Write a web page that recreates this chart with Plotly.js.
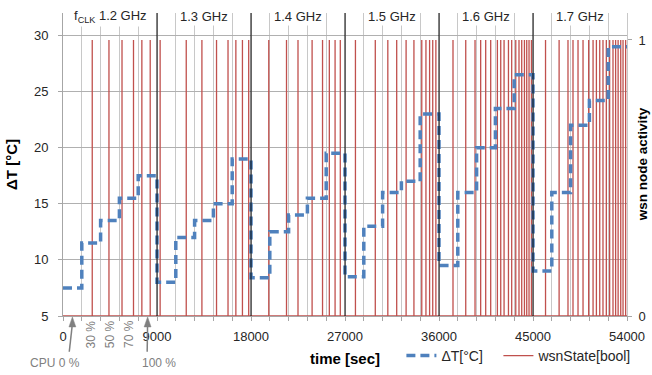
<!DOCTYPE html>
<html><head><meta charset="utf-8">
<script src="https://cdn.plot.ly/plotly-3.0.1.min.js"></script>
<style>html,body{margin:0;padding:0;background:#fff}</style>
</head><body><div id="chart" style="width:652px;height:375px"></div>
<script>
// step times (s) and temperature rise (°C) at each step
const stepTimes = [0,1800,3600,5400,7200,9000,10800,12600,14400,16200,18000,19800,21600,23400,25200,27000,28800,30600,32400,34200,36000,37800,39600,41400,43200,45000,46800,48600,50400,52200,54000];
const deltaT = [7.5,11.5,13.5,15.5,17.5, 8.0,12.0,13.5,15.0,19.0, 8.4,12.5,14.0,15.5,19.5, 8.5,13.0,16.0,17.0,23.0, 9.5,16.0,20.0,23.5,26.5, 9.0,16.0,22.0,24.2,29.0, 29.0];
// times (s) where the WSN node becomes active
const wsnEvents = [2800,4400,5650,6750,7550,8350,
  9300,11800,13300,14700,15800,16550,17180,17780,
  19700,21400,22500,23850,24850,25500,26050,26550,
  28000,29900,31100,31950,32850,33600,34350,34750,35100,35400,35700,
  37340,38560,39450,39990,40470,40950,41590,41910,42230,42650,42960,43350,43660,43920,44180,44400,44620,44850,
  46200,47500,48350,48830,49310,49790,50330,50750,51070,51390,51700,52020,52340,52660,52910,53150,53400,53620,53870];
const segBounds = [0,9000,18000,27000,36000,45000,54000];
const freqLabels = ['f<sub>CLK</sub> 1.2 GHz','1.3 GHz','1.4 GHz','1.5 GHz','1.6 GHz','1.7 GHz'];
const cpuLabels = ['30 %','50 %','70 %'];
const xTickVals = [0,9000,18000,27000,36000,45000,54000];
const xTickText = ['0','9000','18000','27000','36000','45000','54000'];
const yTickVals = [5,10,15,20,25,30];

const wx = [0], wy = [0];
wsnEvents.forEach(t => { wx.push(t,t,t); wy.push(0,1,0); });
wx.push(54000); wy.push(0);

const FONT = 'Liberation Sans, Arial, sans-serif';
const GRAY = '#808080';
const data = [
  {x: wx, y: wy, yaxis: 'y', mode: 'lines', name: 'wsnState[bool]', legend: 'legend2',
   line: {color: '#c0504d', width: 1.3}, hoverinfo: 'skip'},
  {x: stepTimes, y: deltaT, yaxis: 'y2', mode: 'lines', name: 'ΔT[°C]', legend: 'legend',
   line: {shape: 'hv', color: '#4f81bd', width: 3.5, dash: '9px,5px'}}
];

const shapes = segBounds.slice(1, -1).map(b => ({
  type: 'line', xref: 'x', yref: 'paper', x0: b, x1: b, y0: 0, y1: 1,
  line: {color: '#000000', width: 1}, layer: 'above'
}));
// gray pointer arrows under the axis (0 % and 100 % CPU steps)
function arrow(t, slant) {
  shapes.push({type: 'line', xref: 'x', yref: 'paper', x0: t + slant, x1: t, y0: -0.118, y1: -0.025,
    line: {color: GRAY, width: 1.5}});
  shapes.push({type: 'path', xref: 'x', yref: 'paper',
    path: `M ${t - 330} -0.036 L ${t} -0.003 L ${t + 330} -0.036 Z`,
    fillcolor: GRAY, line: {color: GRAY, width: 0.5}});
}
arrow((stepTimes[0] + stepTimes[1]) / 2, -300);
arrow((stepTimes[4] + stepTimes[5]) / 2, -40);

const annotations = [];
for (let i = 0; i < freqLabels.length; i++) {
  annotations.push({x: (segBounds[i] + segBounds[i+1]) / 2, xref: 'x', y: 0.987, yref: 'paper',
    text: freqLabels[i], showarrow: false, yanchor: 'middle', bgcolor: '#ffffff', borderpad: 1,
    font: {size: 13, color: '#262626', family: FONT}});
}
for (let i = 0; i < cpuLabels.length; i++) {
  annotations.push({x: (stepTimes[i+1] + stepTimes[i+2]) / 2, xref: 'x', y: -0.06, yref: 'paper',
    text: cpuLabels[i], textangle: -90, showarrow: false, yanchor: 'middle',
    font: {size: 12, color: GRAY, family: FONT}});
}
annotations.push({x: -0.015, xref: 'paper', y: -0.155, yref: 'paper', text: 'CPU 0 %', showarrow: false,
  xanchor: 'center', yanchor: 'middle', font: {size: 12, color: GRAY, family: FONT}});
annotations.push({x: 0.17, xref: 'paper', y: -0.155, yref: 'paper', text: '100 %', showarrow: false,
  xanchor: 'center', yanchor: 'middle', font: {size: 12, color: GRAY, family: FONT}});
annotations.push({x: 1.028, xref: 'paper', y: 0.5, yref: 'paper', text: '<b>wsn node activity</b>',
  textangle: -90, showarrow: false, xanchor: 'center', yanchor: 'middle',
  font: {size: 13.5, color: '#000000', family: FONT}});

const legendBase = {orientation: 'h', xanchor: 'left', y: -0.132, yanchor: 'middle',
  font: {size: 14, color: '#262626', family: FONT}, bgcolor: 'rgba(0,0,0,0)', itemwidth: 30};

const layout = {
  width: 652, height: 375,
  margin: {l: 63, r: 25, t: 13, b: 59, pad: 0, autoexpand: false},
  paper_bgcolor: '#ffffff', plot_bgcolor: '#ffffff',
  font: {family: FONT, size: 13, color: '#262626'},
  showlegend: true,
  legend: Object.assign({}, legendBase, {x: 0.6}),
  legend2: Object.assign({}, legendBase, {x: 0.772}),
  xaxis: {range: [0, 54000], tickvals: xTickVals, ticktext: xTickText, showgrid: false,
    ticks: 'outside', ticklen: 4, tickcolor: '#a6a6a6', showline: true, linecolor: '#a6a6a6',
    zeroline: false, ticklabelstandoff: 4,
    minor: {tick0: 0, dtick: 1800, showgrid: true, gridcolor: '#c8c8c8', gridwidth: 1,
      ticks: 'outside', ticklen: 4, tickcolor: '#a6a6a6'},
    title: {text: '<b>time [sec]</b>', font: {size: 15, color: '#000000'}, standoff: 10}},
  yaxis: {side: 'right', range: [0, 1.0978], tickvals: [0, 1], showgrid: false, zeroline: false,
    ticks: 'outside', ticklen: 4, tickcolor: '#a6a6a6', showline: true, linecolor: '#c8c8c8',
    ticklabelstandoff: 4},
  yaxis2: {overlaying: 'y', side: 'left', range: [5, 32], tickvals: yTickVals, showgrid: true,
    gridcolor: '#b0b0b0', zeroline: false, showline: true, linecolor: '#a6a6a6',
    ticks: 'outside', ticklen: 4, tickcolor: '#a6a6a6', ticklabelstandoff: 7,
    title: {text: '<b>ΔT [°C]</b>', font: {size: 15, color: '#000000'}, standoff: 12}},
  shapes: shapes,
  annotations: annotations
};
Plotly.newPlot('chart', data, layout, {staticPlot: true, displayModeBar: false});
</script></body></html>
